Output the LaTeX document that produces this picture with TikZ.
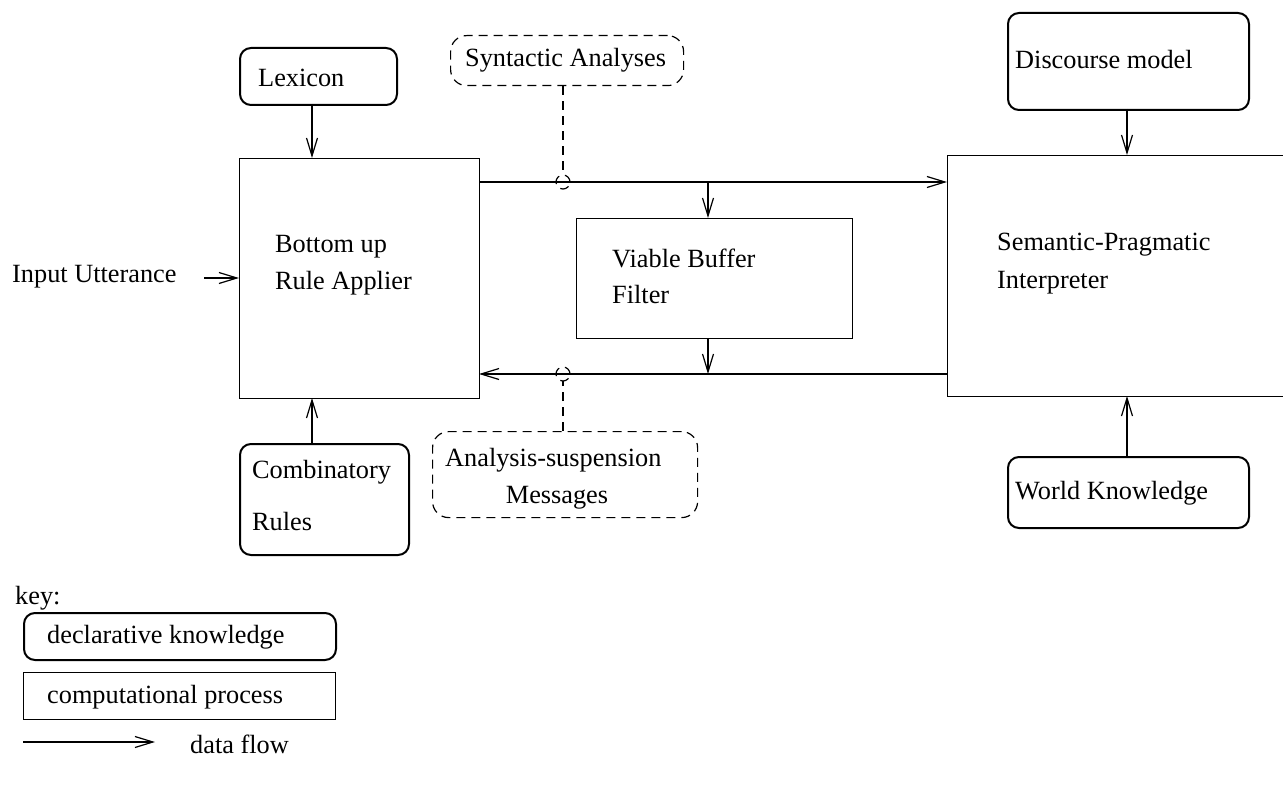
\documentclass[tikz,border=0pt]{standalone}
\usepackage{fontspec}
\setmainfont{Liberation Serif}
\usetikzlibrary{arrows.meta,calc}
\begin{document}
\begin{tikzpicture}[x=1pt,y=-1pt,
  every node/.style={font=\fontsize{26.3}{31}\selectfont},
  box/.style={draw,line width=1.2pt,inner sep=0pt,anchor=north west},
  kbox/.style={draw,line width=2pt,rounded corners=11pt,inner sep=0pt,anchor=north west},
  dbox/.style={draw,line width=1.2pt,dash pattern=on 9pt off 6pt,rounded corners=16pt,inner sep=0pt,anchor=north west},
  lbl/.style={anchor=west,inner sep=0pt},
  flow/.style={line width=1.2pt,-{Straight Barb[length=18pt,width=11pt,line width=1.2pt]}},
  hop/.style={line width=1.2pt,dash pattern=on 9pt off 6pt}]
\useasboundingbox (0,0) rectangle (1283,789);
% boxes
\node[kbox,minimum width=157pt,minimum height=57pt] (lex) at (239,47) {};
\node[box,minimum width=240pt,minimum height=240pt] (bu) at (239,158) {};
\node[kbox,minimum width=169pt,minimum height=111pt] (comb) at (239,443) {};
\node[box,minimum width=276pt,minimum height=120pt] (vb) at (576,218) {};
\node[box,minimum width=360pt,minimum height=241pt] (sp) at (947,155) {};
\node[kbox,minimum width=241pt,minimum height=97pt] (disc) at (1007,12) {};
\node[kbox,minimum width=241pt,minimum height=71pt] (wk) at (1007,456) {};
\node[dbox,minimum width=233pt,minimum height=50pt] (syn) at (450,35) {};
\node[dbox,minimum width=265pt,minimum height=86pt] (ana) at (432,431) {};
% texts
\node[lbl] (lext) at (258,78) {Lexicon};
\node[lbl] (but1) at (275,247) {Bottom up};
\node[lbl] (but2) at (275,283) {Rule Applier};
\node[lbl] (combt1) at (252,472) {Combinatory};
\node[lbl] (combt2) at (252,522) {Rules};
\node[lbl] (vbt1) at (612,258) {Viable Buffer};
\node[lbl] (vbt2) at (612,295) {Filter};
\node[lbl] (spt1) at (997,245) {Semantic-Pragmatic};
\node[lbl] (spt2) at (997,283) {Interpreter};
\node[lbl] (disct) at (1015,60) {Discourse model};
\node[lbl] (wkt) at (1015,493) {World Knowledge};
\node[lbl] (synt) at (465,60) {Syntactic Analyses};
\node[lbl] (anat1) at (445,460) {Analysis-suspension};
\node[anchor=center,inner sep=0pt] (anat2) at (557,498) {Messages};
\node[lbl] (input) at (12,277) {Input Utterance};
% key
\node[lbl] (key) at (15,598) {key:};
\node[kbox,minimum width=312pt,minimum height=47pt] (kd) at (23,612) {};
\node[lbl] (kdt) at (47,637) {declarative knowledge};
\node[box,minimum width=312pt,minimum height=47pt] (kc) at (23,672) {};
\node[lbl] (kct) at (47,697) {computational process};
\coordinate (df1) at (23,742);
\coordinate (df2) at (155,742);
\draw[flow] (df1) -- (df2);
\node[lbl] (dft) at (190,744) {data flow};
% connectors
\coordinate (lexb) at (312,104);
\coordinate (but) at (312,158);
\draw[flow] (lexb) -- (but);
\coordinate (combtop) at (312,443);
\coordinate (bub) at (312,398);
\draw[flow] (combtop) -- (bub);
\coordinate (in1) at (204,278);
\coordinate (in2) at (239,278);
\draw[flow] (in1) -- (in2);
\coordinate (up1) at (479,182);
\coordinate (up2) at (947,182);
\draw[flow] (up1) -- (up2);
\coordinate (vbin1) at (708,182);
\coordinate (vbin2) at (708,218);
\draw[flow] (vbin1) -- (vbin2);
\coordinate (lo1) at (947,374);
\coordinate (lo2) at (479,374);
\draw[flow] (lo1) -- (lo2);
\coordinate (vbout1) at (708,338);
\coordinate (vbout2) at (708,374);
\draw[flow] (vbout1) -- (vbout2);
\coordinate (discb) at (1127,109);
\coordinate (spt) at (1127,155);
\draw[flow] (discb) -- (spt);
\coordinate (wktop) at (1127,456);
\coordinate (spb) at (1127,396);
\draw[flow] (wktop) -- (spb);
% dashed links with hops
\coordinate (h1) at (563,182);
\coordinate (h2) at (563,374);
\coordinate (h1t) at (563,175);
\coordinate (h2b) at (563,381);
\draw[hop] (syn.south -| h1) -- (h1t);
\draw[hop] (h1) circle[radius=7pt];
\draw[hop] (ana.north -| h2) -- (h2b);
\draw[hop] (h2) circle[radius=7pt];
\end{tikzpicture}
\end{document}
